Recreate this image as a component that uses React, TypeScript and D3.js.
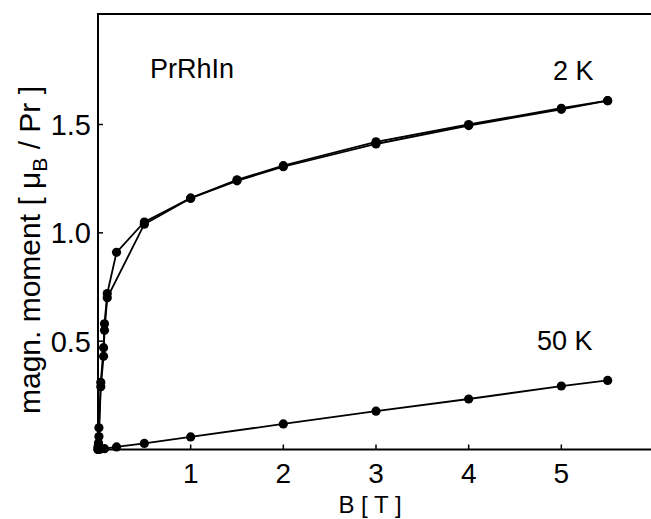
import React, { useEffect, useRef } from 'react';
import * as d3 from 'd3';

// 2 K, field sweep up
const fieldUp2K = [0, 0.005, 0.01, 0.03, 0.06, 0.07, 0.1, 0.2, 0.5, 1, 1.5, 2, 3, 4, 5, 5.5];
const momentUp2K = [0, 0.03, 0.1, 0.31, 0.47, 0.58, 0.72, 0.91, 1.05, 1.16, 1.245, 1.31, 1.42, 1.5, 1.575, 1.61];
// 2 K, field sweep down
const fieldDown2K = [5.5, 5, 4, 3, 2, 1.5, 1, 0.5, 0.1, 0.07, 0.06, 0.03, 0.01, 0.005, 0];
const momentDown2K = [1.61, 1.57, 1.495, 1.41, 1.305, 1.24, 1.16, 1.04, 0.7, 0.55, 0.43, 0.29, 0.06, 0.02, 0.01];
// 50 K
const field50K = [0, 0.02, 0.07, 0.2, 0.5, 1, 2, 3, 4, 5, 5.5];
const moment50K = [0, 0.001, 0.004, 0.012, 0.028, 0.058, 0.118, 0.177, 0.233, 0.293, 0.319];

const xTicks = [1, 2, 3, 4, 5];
const yTicks = [0.5, 1.0, 1.5];

type Pt = [number, number];
const zip = (xs: number[], ys: number[]): Pt[] => xs.map((x, i) => [x, ys[i]]);

const App = () => {
  const ref = useRef<SVGSVGElement>(null);

  useEffect(() => {
    const width = 651;
    const svg = d3.select(ref.current);
    svg.selectAll('*').remove();

    const x = d3.scaleLinear().domain([0, 6]).range([98, 654]);
    const y = d3.scaleLinear().domain([0, 2.01]).range([449.5, 14]);

    const font = 'Liberation Sans, Arial, sans-serif';

    // frame: left, top, bottom (right edge falls outside the picture)
    svg.append('path')
      .attr('d', `M${width + 5},${y(2.01)}H${x(0)}V${y(0)}H${width + 5}`)
      .attr('fill', 'none')
      .attr('stroke', '#000')
      .attr('stroke-width', 2);

    // inside ticks
    const xAxis = svg.append('g');
    xTicks.forEach((t) => {
      xAxis.append('line')
        .attr('x1', x(t)).attr('x2', x(t))
        .attr('y1', y(0)).attr('y2', y(0) - 5)
        .attr('stroke', '#000').attr('stroke-width', 1.5);
      xAxis.append('text')
        .attr('x', x(t)).attr('y', 483)
        .attr('text-anchor', 'middle')
        .attr('font-family', font).attr('font-size', 28)
        .text(d3.format('d')(t));
    });

    const yAxis = svg.append('g');
    yTicks.forEach((t) => {
      yAxis.append('line')
        .attr('x1', x(0)).attr('x2', x(0) + 5)
        .attr('y1', y(t)).attr('y2', y(t))
        .attr('stroke', '#000').attr('stroke-width', 1.5);
      yAxis.append('text')
        .attr('x', 91).attr('y', y(t))
        .attr('dy', '0.36em')
        .attr('text-anchor', 'end')
        .attr('font-family', font).attr('font-size', 29)
        .text(d3.format('.1f')(t));
    });

    // axis titles
    svg.append('text')
      .attr('x', 370).attr('y', 513)
      .attr('text-anchor', 'middle')
      .attr('font-family', font).attr('font-size', 24)
      .text('B [ T ]');

    const yLabel = svg.append('text')
      .attr('transform', 'translate(40,250) rotate(-90)')
      .attr('text-anchor', 'middle')
      .attr('font-family', font).attr('font-size', 30);
    yLabel.append('tspan').text('magn. moment [ μ');
    yLabel.append('tspan').attr('font-size', 21).attr('dy', 7).text('B');
    yLabel.append('tspan').attr('dy', -7).text(' / Pr ]');

    // curves
    const line = d3.line<Pt>().x((d) => x(d[0])).y((d) => y(d[1]));
    const series = [zip(fieldUp2K, momentUp2K), zip(fieldDown2K, momentDown2K), zip(field50K, moment50K)];

    series.forEach((s) => {
      svg.append('path')
        .datum(s)
        .attr('d', line)
        .attr('fill', 'none')
        .attr('stroke', '#000')
        .attr('stroke-width', 1.8);
      svg.append('g')
        .selectAll('circle')
        .data(s)
        .enter()
        .append('circle')
        .attr('cx', (d) => x(d[0]))
        .attr('cy', (d) => y(d[1]))
        .attr('r', 4.6)
        .attr('fill', '#000');
    });

    // annotations
    svg.append('text')
      .attr('x', 150).attr('y', 78)
      .attr('font-family', font).attr('font-size', 27)
      .text('PrRhIn');
    svg.append('text')
      .attr('x', 553).attr('y', 80)
      .attr('font-family', font).attr('font-size', 27)
      .text('2 K');
    svg.append('text')
      .attr('x', 537).attr('y', 350)
      .attr('font-family', font).attr('font-size', 27)
      .text('50 K');
  }, []);

  return (
    <svg
      ref={ref}
      width={651}
      height={519}
      style={{ position: 'absolute', left: 0, top: 0, background: '#fff' }}
    />
  );
};

export default App;
